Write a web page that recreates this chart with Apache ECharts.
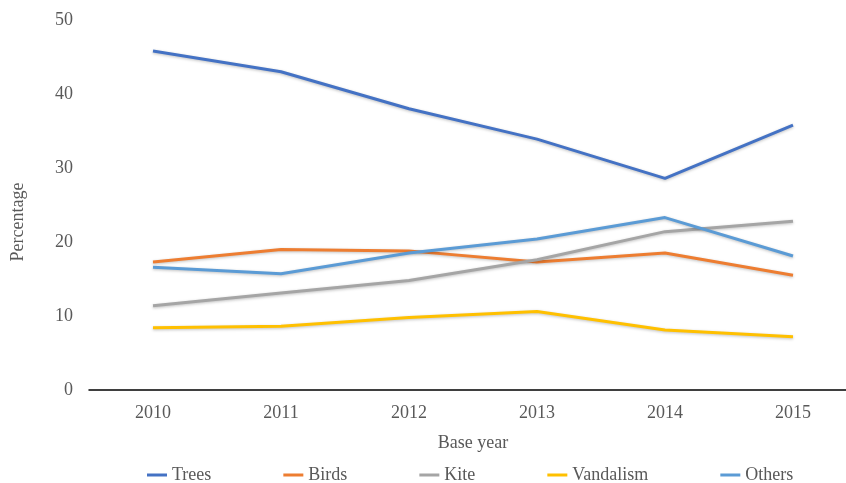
<!DOCTYPE html>
<html>
<head>
<meta charset="utf-8">
<script src="https://cdn.jsdelivr.net/npm/echarts@6/dist/echarts.min.js"></script>
<style>
  html, body { margin: 0; padding: 0; background: #fff; }
  #main { width: 846px; height: 483px; }
</style>
</head>
<body>
<div id="main"></div>
<script>
var years = ['2010', '2011', '2012', '2013', '2014', '2015'];
var trees = [45.8, 43.0, 38.0, 33.9, 28.6, 35.8];
var birds = [17.3, 19.0, 18.8, 17.3, 18.5, 15.5];
var kite = [11.4, 13.1, 14.8, 17.6, 21.4, 22.8];
var vandalism = [8.4, 8.6, 9.8, 10.6, 8.1, 7.2];
var others = [16.6, 15.7, 18.5, 20.4, 23.3, 18.1];

var colors = ['#4472C4', '#ED7D31', '#A5A5A5', '#FFC000', '#5B9BD5'];
var font = 'Liberation Serif';

var myChart = echarts.init(document.getElementById('main'));

function line(name, data) {
  return {
    name: name,
    type: 'line',
    data: data,
    symbol: 'none',
    lineStyle: {
      width: 3,
      shadowColor: 'rgba(0,0,0,0.25)',
      shadowBlur: 3,
      shadowOffsetY: 1
    }
  };
}

var option = {
  color: colors,
  animation: false,
  textStyle: { fontFamily: font },
  // plot runs past the right edge, like the original
  grid: { left: 89, top: 20, width: 768, height: 370, outerBoundsMode: 'none' },
  legend: {
    left: 142,
    top: 461,
    icon: 'rect',
    itemWidth: 20,
    itemHeight: 3,
    itemGap: 72,
    textStyle: { fontFamily: font, fontSize: 18, color: '#595959' },
    data: ['Trees', 'Birds', 'Kite', 'Vandalism', 'Others']
  },
  xAxis: {
    type: 'category',
    data: years,
    boundaryGap: true,
    name: 'Base year',
    nameLocation: 'middle',
    nameGap: 44,
    nameTextStyle: { fontFamily: font, fontSize: 18, color: '#595959' },
    axisLine: { lineStyle: { color: '#000', width: 1.5 } },
    axisTick: { show: false },
    axisLabel: { fontFamily: font, fontSize: 18, color: '#595959', margin: 14 }
  },
  yAxis: {
    type: 'value',
    min: 0,
    max: 50,
    interval: 10,
    name: 'Percentage',
    nameLocation: 'middle',
    nameGap: 62,
    nameTextStyle: { fontFamily: font, fontSize: 18, color: '#595959', padding: [0, 0, 0, -34] },
    axisLine: { show: false },
    axisTick: { show: false },
    splitLine: { show: false },
    axisLabel: { fontFamily: font, fontSize: 18, color: '#595959', margin: 16 }
  },
  series: [
    line('Trees', trees),
    line('Birds', birds),
    line('Kite', kite),
    line('Vandalism', vandalism),
    line('Others', others)
  ]
};

myChart.setOption(option);
</script>
</body>
</html>
